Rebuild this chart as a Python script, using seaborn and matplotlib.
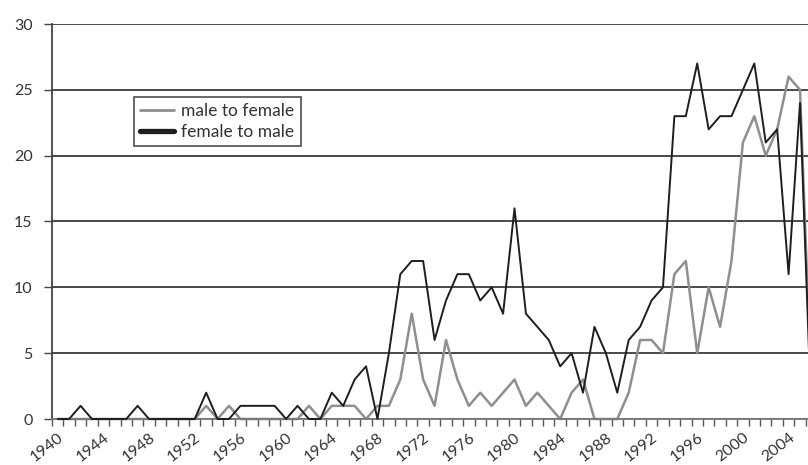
import matplotlib
matplotlib.use("Agg")
import matplotlib.pyplot as plt
import seaborn as sns
import pandas as pd
from matplotlib.lines import Line2D

years = list(range(1940, 2007))
male_to_female = [0, 0, 0, 0, 0, 0, 0, 0, 0, 0,      # 1940-1949
                  0, 0, 0, 1, 0, 1, 0, 0, 0, 0,      # 1950-1959
                  0, 0, 1, 0, 1, 1, 1, 0, 1, 1,      # 1960-1969
                  3, 8, 3, 1, 6, 3, 1, 2, 1, 2,      # 1970-1979
                  3, 1, 2, 1, 0, 2, 3, 0, 0, 0,      # 1980-1989
                  2, 6, 6, 5, 11, 12, 5, 10, 7, 12,  # 1990-1999
                  21, 23, 20, 22, 26, 25, 2]         # 2000-2006
female_to_male = [0, 0, 1, 0, 0, 0, 0, 1, 0, 0,      # 1940-1949
                  0, 0, 0, 2, 0, 0, 1, 1, 1, 1,      # 1950-1959
                  0, 1, 0, 0, 2, 1, 3, 4, 0, 5,      # 1960-1969
                  11, 12, 12, 6, 9, 11, 11, 9, 10, 8,  # 1970-1979
                  16, 8, 7, 6, 4, 5, 2, 7, 5, 2,     # 1980-1989
                  6, 7, 9, 10, 23, 23, 27, 22, 23, 23,  # 1990-1999
                  25, 27, 21, 22, 11, 24, 0]         # 2000-2006
series_names = ["male to female", "female to male"]
tick_years = list(range(1940, 2005, 4))
y_ticks = [0, 5, 10, 15, 20, 25, 30]

sns.set_style("white")
plt.rcParams['font.family'] = ['Lato', 'DejaVu Sans']

n = len(years)
df = pd.DataFrame({
    "year": years * 2,
    "count": male_to_female + female_to_male,
    "series": [series_names[0]] * n + [series_names[1]] * n,
})

colors = {"male to female": "#8f8f8f", "female to male": "#1e1e1e"}
widths = {"male to female": 1.8, "female to male": 1.4}

fig = plt.figure(figsize=(8.08, 4.65), dpi=100)
ax = fig.add_axes([52 / 808, 1 - 419 / 465, 1 - 52 / 808, 395 / 465])

sns.lineplot(data=df, x="year", y="count", hue="series", hue_order=series_names,
             palette=colors, estimator=None, legend=False, ax=ax)
for line, name in zip(ax.lines, series_names):
    line.set_linewidth(widths[name])
    line.set_clip_on(False)
    line.set_zorder(3 if name == "female to male" else 2.5)

ax.set_xlim(1939.5, 2005.7)
ax.set_ylim(0, 30)
ax.set_xlabel("")
ax.set_ylabel("")

ax.set_yticks(y_ticks)
ax.yaxis.grid(True, color="#3c3c3c", linewidth=1.3)
ax.xaxis.grid(False)
ax.set_axisbelow(True)

ax.set_xticks(tick_years)
ax.set_xticklabels([str(y) for y in tick_years], rotation=38, ha="right",
                   va="top", rotation_mode="anchor", fontsize=11.5, color="#333333")
ax.set_xticks([y - 0.5 for y in years], minor=True)
ax.tick_params(axis="x", which="major", length=0, pad=8)
ax.tick_params(axis="x", which="minor", length=5, width=1.0, color="#555555",
               direction="out", bottom=True)
ax.tick_params(axis="y", length=6, width=1.0, color="#444444", direction="out",
               left=True, labelsize=11.5, labelcolor="#333333", pad=8)

for s in ["top", "right"]:
    ax.spines[s].set_visible(False)
ax.spines["left"].set_color("#444444")
ax.spines["left"].set_linewidth(1.3)
ax.spines["bottom"].set_color("#777777")
ax.spines["bottom"].set_linewidth(1.3)

handles = [Line2D([], [], color=colors["male to female"], lw=2.0),
           Line2D([], [], color=colors["female to male"], lw=3.8)]
leg = ax.legend(handles, series_names, loc="upper left",
                bbox_to_anchor=(0.108, 0.815), frameon=True, fancybox=False,
                edgecolor="#222222", fontsize=12.5, handlelength=2.0,
                handletextpad=0.4, borderpad=0.35, labelspacing=0.3,
                borderaxespad=0)
leg.get_frame().set_linewidth(1.2)
for t in leg.get_texts():
    t.set_color("#333333")

fig.savefig("out.png", dpi=100)
